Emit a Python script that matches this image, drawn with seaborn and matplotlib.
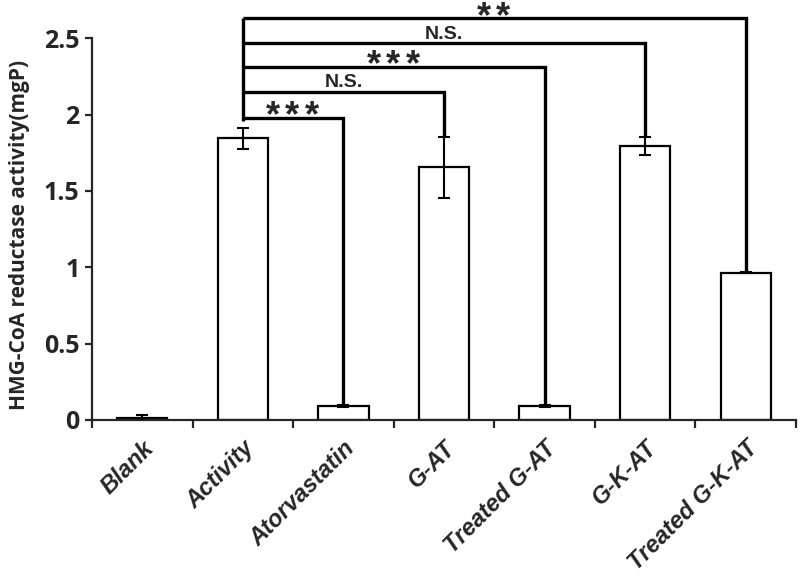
import seaborn as sns
import matplotlib.pyplot as plt
from matplotlib.ticker import FixedLocator

# group names and measured values (mgP)
groups = ["Blank", "Activity", "Atorvastatin", "G-AT", "Treated G-AT", "G-K-AT", "Treated G-K-AT"]
activity = [0.01, 1.845, 0.09, 1.655, 0.09, 1.795, 0.965]
errors = [0.02, 0.07, 0.008, 0.2, 0.008, 0.06, 0.004]

# comparisons against "Activity"
cmp_targets = ["Atorvastatin", "G-AT", "Treated G-AT", "G-K-AT", "Treated G-K-AT"]
cmp_heights = [1.98, 2.15, 2.31, 2.47, 2.63]
cmp_labels = ["***", "N.S.", "***", "N.S.", "**"]

y_ticks = [0, 0.5, 1, 1.5, 2, 2.5]
y_ticklabels = ["0", "0.5", "1", "1.5", "2", "2.5"]

sns.set_style("ticks")
# stars drawn via mathtext so their box hugs the glyphs
plt.rcParams["mathtext.fontset"] = "custom"
plt.rcParams["mathtext.bf"] = "Liberation Sans:bold"
plt.rcParams["mathtext.rm"] = "Liberation Sans"

fig = plt.figure(figsize=(8, 5.78), dpi=100)
ax = fig.add_axes([0.115, 0.2734, 0.88, 0.7266])

sns.barplot(x=groups, y=activity, order=groups, color="white", saturation=1,
            edgecolor="black", linewidth=1.6, width=0.5, errorbar=None, ax=ax)
ax.errorbar(range(len(groups)), activity, yerr=errors, fmt="none", ecolor="black",
            elinewidth=1.5, capsize=4, capthick=1.5, zorder=3)

# significance brackets
ref = groups.index("Activity")
for t, h, lab in zip(cmp_targets, cmp_heights, cmp_labels):
    xi = groups.index(t)
    ax.plot([ref, xi, xi], [h, h, activity[xi] + errors[xi]], color="black",
            lw=2.4, solid_joinstyle="miter", solid_capstyle="butt", zorder=4)
    if "*" in lab:
        star_txt = r"$\mathbf{" + r"\,".join("{*}" for _ in lab) + "}$"
        ax.annotate(star_txt, xy=((ref + xi) / 2, h), xytext=(0, -10.4), textcoords="offset points",
                    ha="center", va="bottom", fontsize=26, annotation_clip=False)
    else:
        ax.annotate(lab, xy=((ref + xi) / 2, h), xytext=(0, 3), textcoords="offset points",
                    ha="center", va="baseline", fontsize=14, fontweight="bold",
                    family="Liberation Sans")
ax.plot([ref, ref], [activity[ref] + errors[ref] + 0.04, max(cmp_heights)], color="black",
        lw=2.4, solid_capstyle="butt", zorder=4)

ax.set_xlim(-0.5, len(groups) - 0.5)
ax.set_ylim(0, 2.75)
ax.set_yticks(y_ticks)
ax.set_yticklabels(y_ticklabels, fontsize=18, fontweight="bold", family="Open Sans")
ax.set_ylabel("HMG-CoA reductase activity(mgP)", fontsize=15, fontweight="bold",
              family="Open Sans")
ax.yaxis.set_label_coords(-0.088, 0.44)
ax.set_xlabel("")

ax.set_xticks(range(len(groups)))
ax.set_xticklabels(groups, rotation=45, ha="right", rotation_mode="anchor",
                   fontsize=17, fontweight="bold", style="italic", family="Liberation Sans")
ax.xaxis.set_minor_locator(FixedLocator([i - 0.5 for i in range(len(groups) + 1)]))
ax.tick_params(axis="x", which="major", length=0, pad=12)
ax.tick_params(axis="x", which="minor", length=6, width=1.6, direction="out")
ax.tick_params(axis="y", length=5, width=1.6, direction="out", pad=4)

sns.despine(ax=ax)
ax.spines["left"].set_bounds(0, 2.5)
ax.spines["left"].set_linewidth(1.6)
ax.spines["bottom"].set_linewidth(1.6)

fig.savefig("out.png", dpi=100, facecolor="white")
